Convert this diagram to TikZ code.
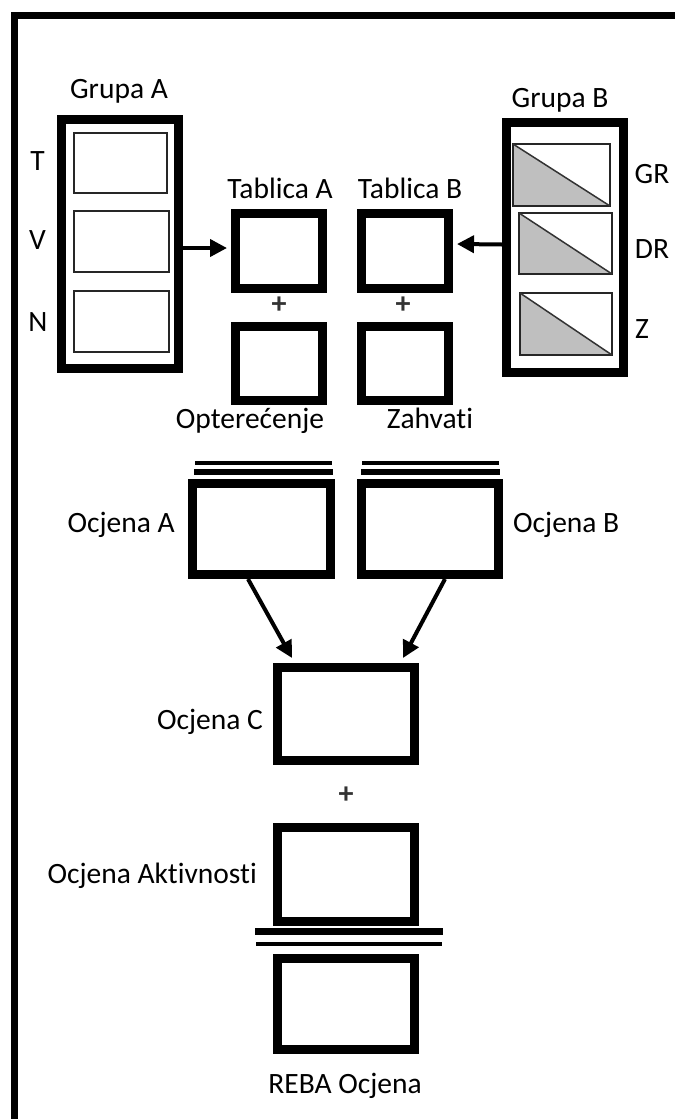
\documentclass[tikz,border=0pt]{standalone}
\usepackage{fontspec}
\setmainfont{Carlito}[Ligatures=NoCommon]
\usetikzlibrary{arrows.meta,calc}
\begin{document}
\begin{tikzpicture}[x=1pt,y=-1pt,
  thickbox/.style={draw=black,line width=9pt,inner sep=0pt,fill=white},
  thinbox/.style={draw=black!85,line width=1.8pt,inner sep=0pt,outer sep=0pt},
  lbl/.style={inner sep=0pt,font=\fontsize{29.5}{31}\selectfont},
  plus/.style={inner sep=0pt,font=\bfseries\fontsize{30}{30}\selectfont,text=black!80},
  arr/.style={line width=4pt,-{Triangle[length=17pt,width=17pt]}},
  bar/.style={line cap=butt}
]
\useasboundingbox (0,0) rectangle (675,1119);
\fill[white] (0,0) rectangle (675,1119);
% outer frame (only top and left edges visible)
\draw[line width=7pt,line join=miter] (14,1119) -- (14,15) -- (675,15);

% Grupa A
\node[thickbox,minimum width=117pt,minimum height=249pt] (ga) at (120,244) {};
\node[thinbox,minimum width=93pt,minimum height=60pt] (t) at (120.5,163) {};
\node[thinbox,minimum width=95pt,minimum height=61pt] (v) at (121.5,241.5) {};
\node[thinbox,minimum width=95pt,minimum height=61pt] (n) at (121.5,321.5) {};
\node[lbl,anchor=base] (gal) at (119,98) {Grupa A};
\node[lbl,anchor=base] (tl) at (37.5,170) {T};
\node[lbl,anchor=base] (vl) at (37.5,249) {V};
\node[lbl,anchor=base] (nl) at (38,331) {N};

% Grupa B
\node[thickbox,minimum width=117pt,minimum height=250pt] (gb) at (565,247.5) {};
\node[thinbox,draw=none,minimum width=97pt,minimum height=62pt] (gr) at (561.5,175) {};
\node[thinbox,draw=none,minimum width=93pt,minimum height=61pt] (dr) at (565.5,243.5) {};
\node[thinbox,draw=none,minimum width=92pt,minimum height=62pt] (z) at (566,324) {};
\foreach \b in {gr,dr,z}{
  \fill[black!25] (\b.north west) -- (\b.south west) -- (\b.south east) -- cycle;
  \draw[black!85,line width=1.8pt] (\b.north west) rectangle (\b.south east);
  \draw[black!80,line width=1.5pt] (\b.north west) -- (\b.south east);
}
\node[lbl,anchor=base] (gbl) at (560,107) {Grupa B};
\node[lbl,anchor=base] (grl) at (652,183) {GR};
\node[lbl,anchor=base] (drl) at (652,258) {DR};
\node[lbl,anchor=base] (zl) at (642,338) {Z};

% Tablica A / B
\node[thickbox,minimum width=87pt,minimum height=75pt] (ta1) at (279,251) {};
\node[thickbox,minimum width=87pt,minimum height=74pt] (ta2) at (279,363.5) {};
\node[thickbox,minimum width=87pt,minimum height=75pt] (tb1) at (405,251) {};
\node[thickbox,minimum width=87pt,minimum height=74pt] (tb2) at (405,363.5) {};
\node[lbl,anchor=base] (tal) at (280,198) {Tablica A};
\node[lbl,anchor=base] (tbl) at (410,198) {Tablica B};
\node[plus] (pa) at (279,305) {+};
\node[plus] (pb) at (403,305) {+};
\node[lbl,anchor=base] (opt) at (250,428) {Optere\'{c}enje};
\node[lbl,anchor=base] (zah) at (430,428) {Zahvati};

\draw[arr] ([yshift=-4pt]ga.east) -- ([yshift=3pt,xshift=-4pt]ta1.west);
\draw[arr] ([yshift=3pt]gb.west) -- ([yshift=7pt,xshift=4pt]tb1.east);

% Ocjena A / B
\draw[bar,line width=4pt] (195,463) -- (332,463);
\draw[bar,line width=5.5pt] (194,472) -- (333,472);
\draw[bar,line width=4pt] (362,463) -- (499,463);
\draw[bar,line width=5.5pt] (361,472) -- (500,472);
\node[thickbox,minimum width=138pt,minimum height=91pt] (oa) at (261.5,529) {};
\node[thickbox,minimum width=137pt,minimum height=91pt] (ob) at (430,529) {};
\node[lbl,anchor=base east] (oal) at (175,532) {Ocjena A};
\node[lbl,anchor=base west] (obl) at (513,532) {Ocjena B};

% Ocjena C
\node[thickbox,minimum width=137pt,minimum height=93pt] (oc) at (346,714) {};
\node[lbl,anchor=base east] (ocl) at (263,729) {Ocjena C};
\draw[arr] ([xshift=-13.5pt]oa.south) -- ([xshift=-54pt,yshift=5pt]oc.north);
\draw[arr] ([xshift=15pt]ob.south) -- ([xshift=57pt,yshift=5pt]oc.north);
\node[plus] (pc) at (346,795) {+};

% Ocjena Aktivnosti / REBA
\node[thickbox,minimum width=137pt,minimum height=94pt] (oakt) at (346,874.5) {};
\node[lbl,anchor=base east] (oaktl) at (257,883) {Ocjena Aktivnosti};
\draw[bar,line width=7pt] (255,931.5) -- (443,931.5);
\draw[bar,line width=4.5pt] (256,944) -- (442,944);
\node[thickbox,minimum width=137pt,minimum height=91pt] (reba) at (346,1004) {};
\node[lbl,anchor=base] (rebal) at (345,1093) {REBA Ocjena};
\end{tikzpicture}
\end{document}
